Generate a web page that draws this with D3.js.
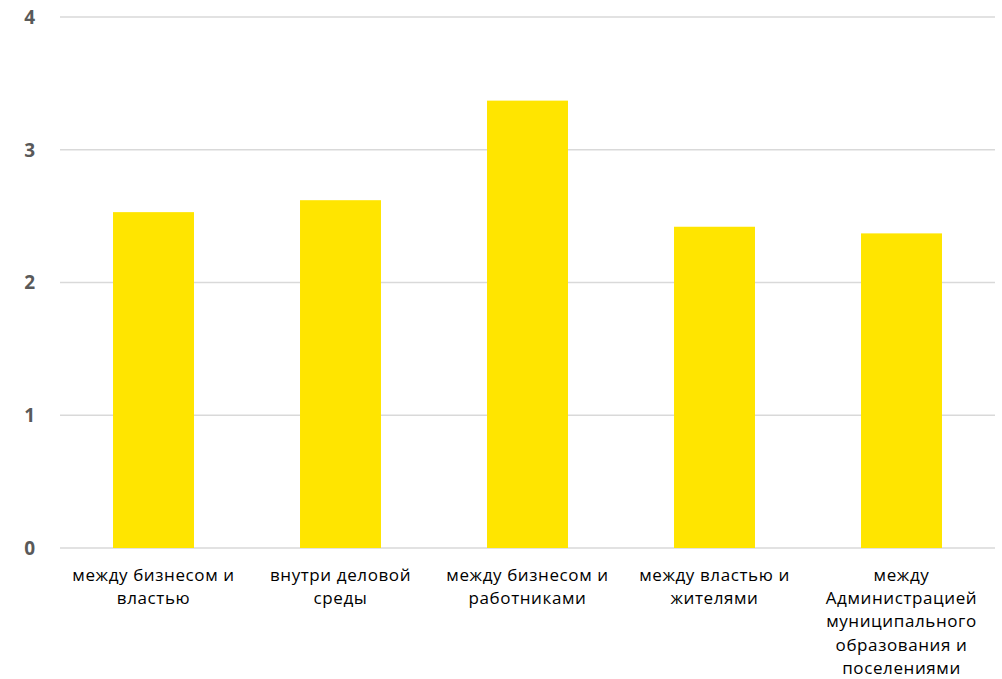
<!DOCTYPE html>
<html><head><meta charset="utf-8">
<script src="https://cdn.jsdelivr.net/npm/d3@7"></script>
<style>body{margin:0;background:#fff}</style>
</head><body>
<svg id="c" width="1002" height="679"></svg>
<script>
const categories = ["c1","c2","c3","c4","c5"];
const categoryLabels = [
  ["между бизнесом и","властью"],
  ["внутри деловой","среды"],
  ["между бизнесом и","работниками"],
  ["между властью и","жителями"],
  ["между","Администрацией","муниципального","образования и","поселениями"]
];
const values = [2.53, 2.62, 3.37, 2.42, 2.37];
const yTicks = [0,1,2,3,4];

const svg = d3.select("#c");
const x = d3.scaleBand().domain(categories).range([60,995]).paddingInner(0.567).paddingOuter(0.2835);
const y = d3.scaleLinear().domain([0,4]).range([548,17]);

svg.append("g").selectAll("line").data(yTicks).join("line")
  .attr("x1",60).attr("x2",995).attr("y1",d=>y(d)).attr("y2",d=>y(d))
  .attr("stroke","#d9d9d9").attr("stroke-width",1.5);

svg.append("g").selectAll("text").data(yTicks).join("text")
  .attr("x",35).attr("y",d=>y(d)).attr("dy","0.36em").attr("text-anchor","end")
  .attr("font-family","Open Sans, Liberation Sans, sans-serif").attr("font-weight","bold")
  .attr("font-size",19).attr("fill","#595959").text(d=>d);

svg.append("g").selectAll("rect").data(values).join("rect")
  .attr("x",(d,i)=>x(categories[i])).attr("width",x.bandwidth())
  .attr("y",d=>y(d)).attr("height",d=>y(0)-y(d)).attr("fill","#FFE500");

const lab = svg.append("g").selectAll("text").data(categoryLabels).join("text")
  .attr("x",(d,i)=>x(categories[i])+x.bandwidth()/2).attr("y",581)
  .attr("text-anchor","middle").attr("font-family","Open Sans, Liberation Sans, sans-serif")
  .attr("font-size",17).attr("letter-spacing",0.6).attr("fill","#000");
lab.selectAll("tspan").data(d=>d).join("tspan")
  .attr("x",function(){return this.parentNode.getAttribute("x");})
  .attr("dy",(d,i)=>i===0?0:23.2).text(d=>d);
</script>
</body></html>
